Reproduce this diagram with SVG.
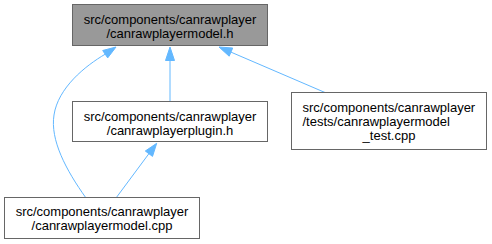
<svg xmlns="http://www.w3.org/2000/svg" width="492" height="244" viewBox="0 0 492 244">
  <style>
    .node rect { fill: #ffffff; stroke: #666666; stroke-width: 1; }
    .node.current rect { fill: #999999; }
    text { font-family: "Liberation Sans", Arial, Helvetica, sans-serif; font-size: 13px; fill: #000000; }
    .edge { fill: none; stroke: #63b8ff; stroke-width: 1; }
    .head { fill: #63b8ff; stroke: #63b8ff; stroke-width: 1; }
  </style>
  <rect width="492" height="244" fill="#ffffff"/>

  <g id="edges">
    <!-- plugin.h -> model.h -->
    <path class="edge" d="M170,101 L170,60.5"/>
    <polygon class="head" points="170,47 165.5,60.5 174.5,60.5"/>
    <!-- model_test.cpp -> model.h -->
    <path class="edge" d="M325,92.5 L230.9,52.1"/>
    <polygon class="head" points="219,47 232.7,48 229.2,56.2"/>
    <!-- model.cpp -> model.h -->
    <path class="edge" d="M86,198 C66,170 50,140 54,115 C58,88 85,66 105.2,54.2"/>
    <polygon class="head" points="116,47 102.7,50.5 107.7,57.9"/>
    <!-- model.cpp -> plugin.h -->
    <path class="edge" d="M116,198 L148.9,153.7"/>
    <polygon class="head" points="156.7,143.3 145.3,151 152.5,156.4"/>
  </g>

  <g id="node-model-h" class="node current">
    <rect x="72.5" y="4.5" width="195" height="41"/>
    <text x="170" y="24" text-anchor="middle">src/components/canrawplayer</text>
    <text x="170" y="38" text-anchor="middle">/canrawplayermodel.h</text>
  </g>

  <g id="node-plugin-h" class="node">
    <rect x="72.5" y="101.5" width="195" height="40"/>
    <text x="170" y="120.5" text-anchor="middle">src/components/canrawplayer</text>
    <text x="170" y="134.5" text-anchor="middle">/canrawplayerplugin.h</text>
  </g>

  <g id="node-model-test" class="node">
    <rect x="291.5" y="92.5" width="195" height="57"/>
    <text x="302.5" y="111.5">src/components/canrawplayer</text>
    <text x="302.5" y="125.5">/tests/canrawplayermodel</text>
    <text x="389" y="139.5" text-anchor="middle">_test.cpp</text>
  </g>

  <g id="node-model-cpp" class="node">
    <rect x="4.5" y="197.5" width="195" height="41"/>
    <text x="102" y="216" text-anchor="middle">src/components/canrawplayer</text>
    <text x="102" y="230" text-anchor="middle">/canrawplayermodel.cpp</text>
  </g>
</svg>
